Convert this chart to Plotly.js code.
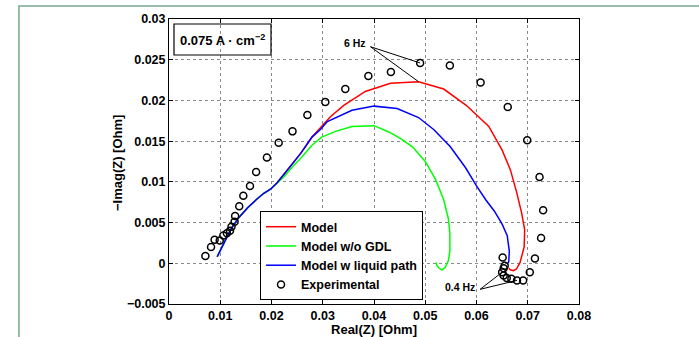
<!DOCTYPE html>
<html>
<head>
<meta charset="utf-8">
<script src="https://cdn.plot.ly/plotly-3.0.1.min.js"></script>
<style>html,body{margin:0;padding:0;background:#fff;}#chart{width:699px;height:337px;}</style>
</head>
<body>
<div id="chart"></div>
<script>
// Experimental impedance points (Real, -Imag) in Ohm
const expX = [0.0071, 0.0082, 0.0089, 0.0099, 0.0106, 0.0113, 0.0119, 0.0122, 0.0128, 0.0129, 0.0137, 0.0145, 0.0158, 0.0170, 0.0191, 0.0214, 0.0241, 0.0270, 0.0305, 0.0344, 0.0389, 0.0433, 0.0490, 0.0548, 0.0608, 0.0661, 0.0699, 0.0723, 0.0730, 0.0726, 0.0714, 0.0704, 0.0691, 0.0679, 0.0668, 0.0659, 0.0653, 0.0650, 0.0653, 0.0655, 0.0651];
const expY = [0.0009, 0.0020, 0.0029, 0.0028, 0.0034, 0.0037, 0.0040, 0.0045, 0.0051, 0.0058, 0.0070, 0.0083, 0.0095, 0.0112, 0.0130, 0.0148, 0.0162, 0.0182, 0.0198, 0.0214, 0.0230, 0.0235, 0.0246, 0.0243, 0.0222, 0.0192, 0.0151, 0.0106, 0.0065, 0.0031, 0.0006, -0.0011, -0.0021, -0.0021, -0.0019, -0.0018, -0.0015, -0.0011, -0.0006, -0.0003, 0.0007];

// Model
const modelX = [0.0094, 0.0106, 0.0120, 0.0136, 0.0153, 0.0170, 0.0185, 0.0198, 0.0211, 0.0224, 0.0240, 0.0257, 0.0279, 0.0295, 0.0315, 0.0341, 0.0383, 0.0432, 0.0487, 0.0536, 0.0580, 0.0624, 0.0650, 0.0666, 0.0678, 0.0688, 0.0694, 0.0693, 0.0685, 0.0678, 0.0672, 0.0666, 0.0663];
const modelY = [0.0008, 0.0023, 0.0041, 0.0056, 0.0068, 0.0078, 0.0086, 0.0091, 0.0099, 0.0109, 0.0121, 0.0135, 0.0155, 0.0166, 0.0180, 0.0194, 0.0211, 0.0221, 0.0223, 0.0214, 0.0194, 0.0168, 0.0139, 0.0115, 0.0088, 0.0062, 0.0041, 0.0020, 0.0001, -0.0007, -0.0009, -0.0008, -0.0006];

// Model w/o GDL
const noGdlX = [0.0094, 0.0106, 0.0120, 0.0136, 0.0153, 0.0170, 0.0185, 0.0198, 0.0211, 0.0224, 0.0240, 0.0257, 0.0279, 0.0298, 0.0325, 0.0357, 0.0400, 0.0430, 0.0452, 0.0475, 0.0500, 0.0520, 0.0536, 0.0545, 0.0548, 0.0548, 0.0545, 0.0539, 0.0533, 0.0527, 0.0523, 0.0521];
const noGdlY = [0.0008, 0.0023, 0.0041, 0.0056, 0.0068, 0.0078, 0.0086, 0.0091, 0.0099, 0.0106, 0.0118, 0.0129, 0.0145, 0.0155, 0.0162, 0.0168, 0.0169, 0.0161, 0.0153, 0.0143, 0.0125, 0.0103, 0.0078, 0.0055, 0.0037, 0.0015, 0.0003, -0.0005, -0.0008, -0.0006, -0.0003, 0.0001];

// Model w liquid path
const liqX = [0.0094, 0.0106, 0.0120, 0.0136, 0.0153, 0.0170, 0.0185, 0.0198, 0.0211, 0.0224, 0.0240, 0.0257, 0.0279, 0.0295, 0.0309, 0.0357, 0.0400, 0.0445, 0.0487, 0.0517, 0.0549, 0.0579, 0.0600, 0.0618, 0.0635, 0.0650, 0.0660, 0.0664, 0.0663, 0.0660];
const liqY = [0.0008, 0.0023, 0.0041, 0.0056, 0.0068, 0.0078, 0.0086, 0.0091, 0.0099, 0.0109, 0.0121, 0.0135, 0.0155, 0.0164, 0.0174, 0.0188, 0.0193, 0.0190, 0.0179, 0.0164, 0.0143, 0.0117, 0.0095, 0.0078, 0.0064, 0.0048, 0.0034, 0.0015, 0.0002, -0.0001];

const seriesNames = ["Model", "Model w/o GDL", "Model w liquid path", "Experimental"];
const xTickVals = [0, 0.01, 0.02, 0.03, 0.04, 0.05, 0.06, 0.07, 0.08];
const xTickText = ["0", "0.01", "0.02", "0.03", "0.04", "0.05", "0.06", "0.07", "0.08"];
const yTickVals = [-0.005, 0, 0.005, 0.01, 0.015, 0.02, 0.025, 0.03];
const yTickText = ["\u22120.005", "0", "0.005", "0.01", "0.015", "0.02", "0.025", "0.03"];

const FONT = "Liberation Sans, Arial, Helvetica, sans-serif";

const traces = [
  {x: modelX, y: modelY, mode: "lines", name: "<b>" + seriesNames[0] + "</b>", line: {color: "#ff0000", width: 1.5}},
  {x: noGdlX, y: noGdlY, mode: "lines", name: "<b>" + seriesNames[1] + "</b>", line: {color: "#00ff00", width: 1.5}},
  {x: liqX, y: liqY, mode: "lines", name: "<b>" + seriesNames[2] + "</b>", line: {color: "#0000ff", width: 1.5}},
  {x: expX, y: expY, mode: "markers", name: "<b>" + seriesNames[3] + "</b>",
   marker: {symbol: "circle-open", size: 7, color: "#000", line: {width: 1.5, color: "#000"}}}
];

// leader lines: from label to data points (6 Hz: experimental #22 & model #18; 0.4 Hz: exp #37 & #33)
const hi6 = {x: 0.0393, y: 0.0266};
const lo04 = {x: 0.0607, y: -0.0032};
const leaders = [
  [hi6, {x: expX[22], y: expY[22]}],
  [hi6, {x: modelX[18], y: modelY[18]}],
  [lo04, {x: expX[37], y: expY[37]}],
  [lo04, {x: expX[33], y: expY[33]}]
];

const shapes = leaders.map(l => ({type: "line", xref: "x", yref: "y", x0: l[0].x, y0: l[0].y, x1: l[1].x, y1: l[1].y, line: {color: "#000", width: 1}}));
// current density box
shapes.push({type: "rect", xref: "paper", yref: "paper", x0: 0.0122, x1: 0.2488, y0: 0.8737, y1: 0.9825, line: {color: "#000", width: 1.2}, fillcolor: "rgba(0,0,0,0)"});
// outer green frame
shapes.push({type: "rect", xref: "paper", yref: "paper", x0: -0.366, x1: 1.9, y0: -0.6, y1: 1.0456, line: {color: "#76a98a", width: 1.5}, fillcolor: "rgba(0,0,0,0)", layer: "below"});

const layout = {
  width: 699, height: 337,
  margin: {l: 169, r: 120, t: 19, b: 33, pad: 0},
  paper_bgcolor: "#fff", plot_bgcolor: "#fff",
  font: {family: FONT, size: 13, color: "#000", weight: "bold"},
  showlegend: true,
  legend: {x: 0.222, y: 0.326, xanchor: "left", yanchor: "top", bgcolor: "#fff", bordercolor: "#000", borderwidth: 1,
           font: {family: FONT, size: 12.5, color: "#000", weight: "bold"}, tracegroupgap: 0, itemwidth: 30},
  xaxis: {range: [0, 0.08], tickvals: xTickVals, ticktext: xTickText, ticks: "inside", ticklen: 4, tickcolor: "#000",
          showline: true, linecolor: "#000", linewidth: 1, mirror: "allticks", showgrid: true, gridcolor: "#8a8a8a", griddash: "dot", gridwidth: 1,
          zeroline: false, tickfont: {family: FONT, size: 12.5, weight: "bold"},
          title: {text: "<b>Real(Z) [Ohm]</b>", font: {family: FONT, size: 13, weight: "bold"}, standoff: 4}},
  yaxis: {range: [-0.005, 0.03], tickvals: yTickVals, ticktext: yTickText, ticks: "inside", ticklen: 4, tickcolor: "#000",
          showline: true, linecolor: "#000", linewidth: 1, mirror: "allticks", showgrid: true, gridcolor: "#8a8a8a", griddash: "dot", gridwidth: 1,
          zeroline: false, tickfont: {family: FONT, size: 12.5, weight: "bold"}},
  shapes: shapes,
  annotations: [
    {xref: "paper", yref: "paper", x: -0.1268, y: 0.4947, text: "<b>\u2212Imag(Z) [Ohm]</b>", showarrow: false, textangle: -90,
     xanchor: "center", yanchor: "middle", font: {family: FONT, size: 13, color: "#000", weight: "bold"}},
    {xref: "paper", yref: "paper", x: 0.1305, y: 0.928, text: "<b>0.075 A \u00b7 cm<sup>\u22122</sup></b>", showarrow: false,
     font: {family: FONT, size: 13, color: "#000", weight: "bold"}, xanchor: "center", yanchor: "middle"},
    {xref: "x", yref: "y", x: 0.03627, y: 0.0271, text: "<b>6 Hz</b>", showarrow: false, xanchor: "center", yanchor: "middle",
     font: {family: FONT, size: 10.5, color: "#000", weight: "bold"}},
    {xref: "x", yref: "y", x: 0.05674, y: -0.00295, text: "<b>0.4 Hz</b>", showarrow: false, xanchor: "center", yanchor: "middle",
     font: {family: FONT, size: 10.5, color: "#000", weight: "bold"}}
  ]
};

Plotly.newPlot("chart", traces, layout, {displayModeBar: false, staticPlot: true});
</script>
</body>
</html>
